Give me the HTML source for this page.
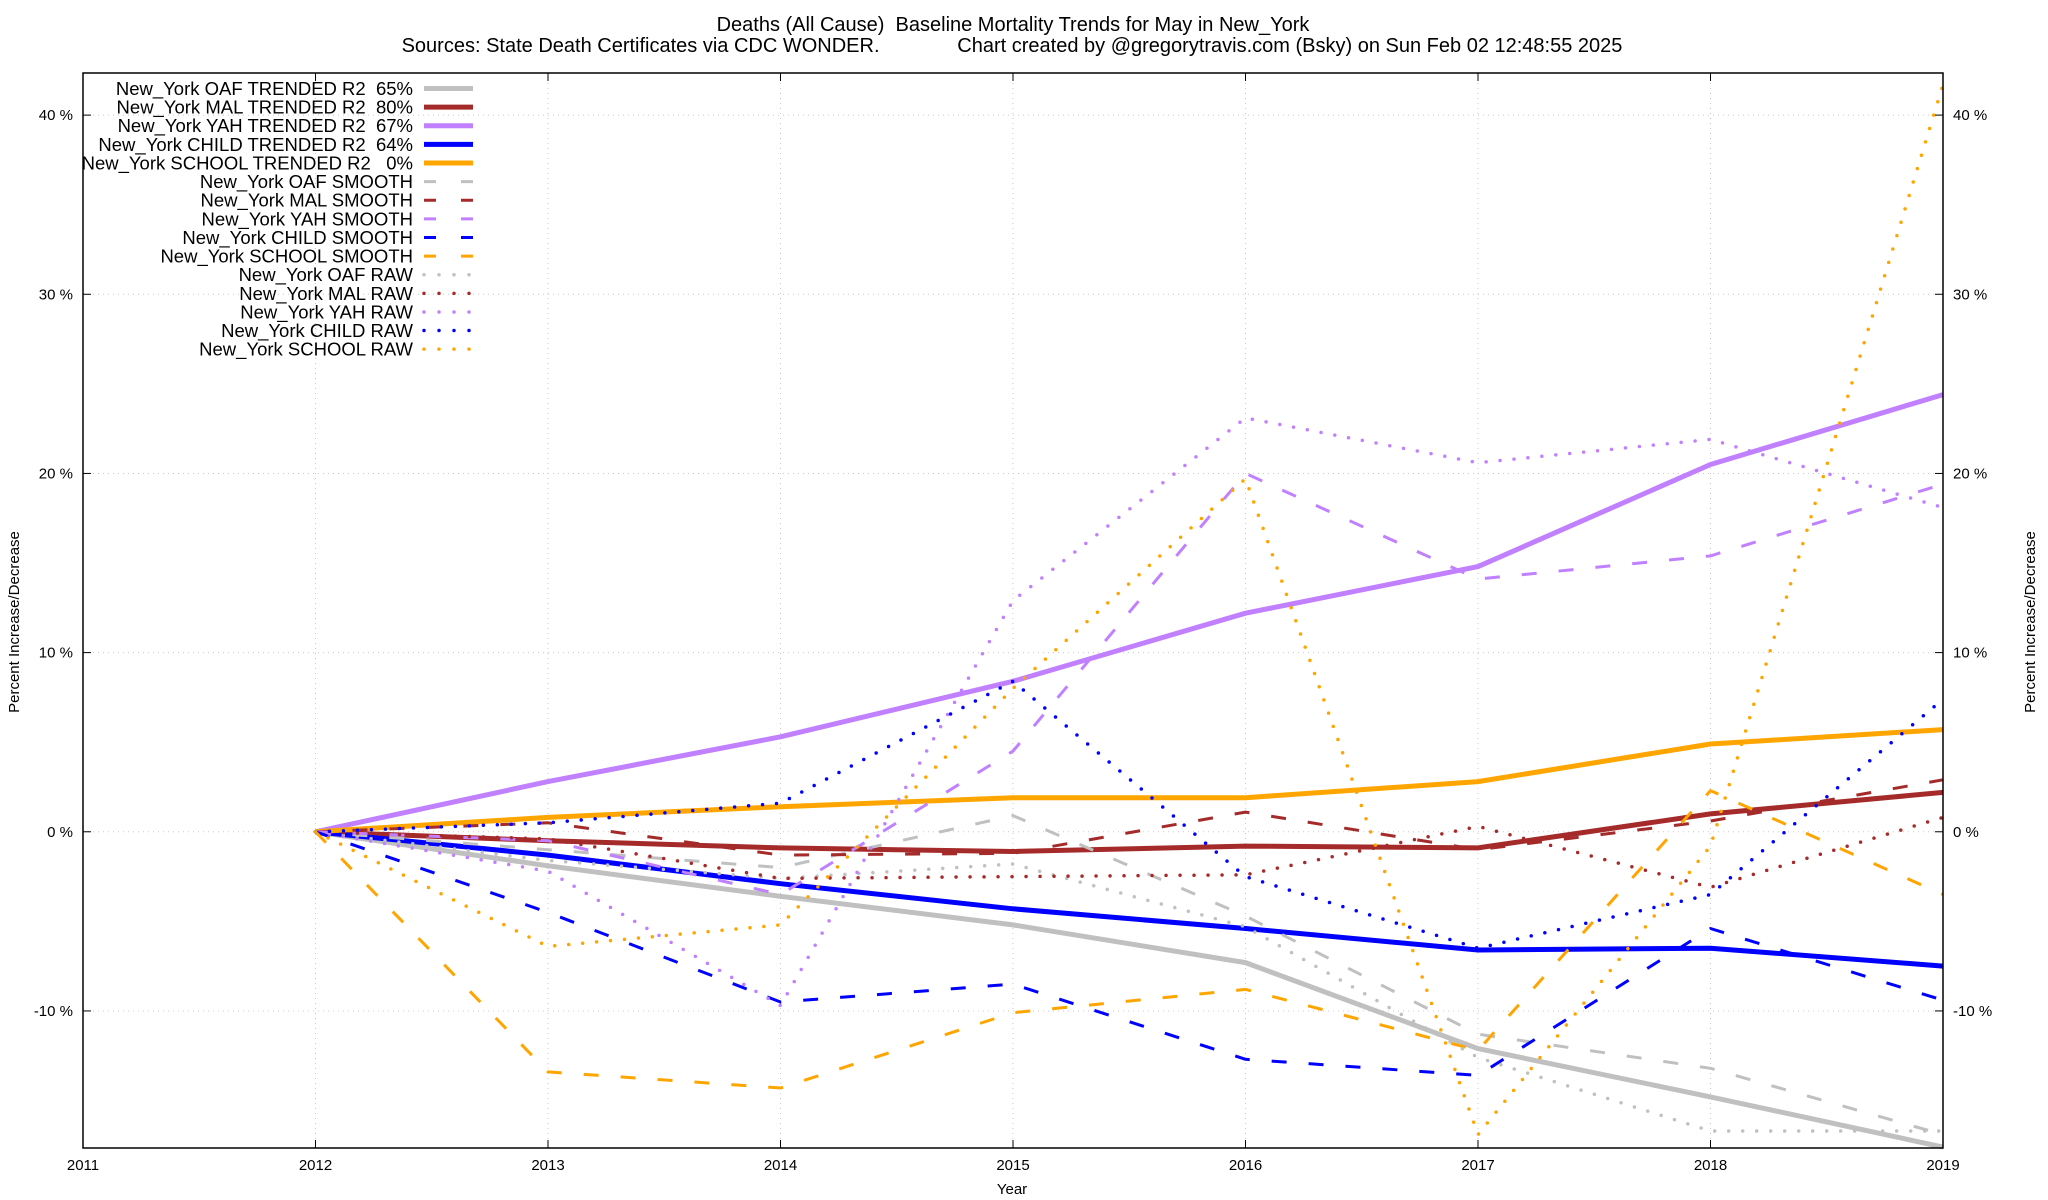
<!DOCTYPE html>
<html><head><meta charset="utf-8"><style>
html,body{margin:0;padding:0;background:#fff;}
svg{display:block;font-family:"Liberation Sans",sans-serif;}
svg text{white-space:pre;}
</style></head><body>
<svg id="chart" width="2048" height="1200" viewBox="0 0 2048 1200" xmlns="http://www.w3.org/2000/svg">
<text x="1013" y="31" font-size="20" text-anchor="middle">Deaths (All Cause)  Baseline Mortality Trends for May in New_York</text>
<text x="1012" y="52" font-size="20" text-anchor="middle">Sources: State Death Certificates via CDC WONDER.              Chart created by @gregorytravis.com (Bsky) on Sun Feb 02 12:48:55 2025</text>
<g id="grid"></g>
<g id="series"></g>
<g id="axes"></g>
<g id="legend"></g>
<text x="1012" y="1194" font-size="15" text-anchor="middle">Year</text>
<text transform="translate(19,622) rotate(-90)" font-size="15" text-anchor="middle">Percent Increase/Decrease</text>
<text transform="translate(2035,622) rotate(-90)" font-size="15" text-anchor="middle">Percent Increase/Decrease</text>
</svg>
<script>
const years = [2012,2013,2014,2015,2016,2017,2018,2019];
const xTicks = [2011,2012,2013,2014,2015,2016,2017,2018,2019];
const yTicks = [-10,0,10,20,30,40];
const oafTrend = [0,-1.9,-3.6,-5.2,-7.3,-12.1,-14.8,-17.6];
const malTrend = [0,-0.5,-0.9,-1.1,-0.8,-0.9,1.0,2.2];
const yahTrend = [0,2.8,5.3,8.4,12.2,14.8,20.5,24.4];
const childTrend = [0,-1.3,-2.9,-4.3,-5.4,-6.6,-6.5,-7.5];
const schoolTrend = [0,0.8,1.4,1.9,1.9,2.8,4.9,5.7];
const oafSmooth = [0,-1.0,-2.0,0.9,-4.7,-11.3,-13.2,-16.9];
const malSmooth = [0,0.5,-1.3,-1.2,1.1,-1.0,0.6,2.9];
const yahSmooth = [0,-0.5,-3.5,4.5,20.0,14.1,15.4,19.4];
const childSmooth = [0,-4.5,-9.5,-8.5,-12.7,-13.6,-5.4,-9.4];
const schoolSmooth = [0,-13.4,-14.3,-10.1,-8.8,-12.2,2.3,-3.5];
const oafRaw = [0,-1.6,-2.6,-1.8,-5.3,-12.6,-16.7,-16.7];
const malRaw = [0,-0.4,-2.6,-2.5,-2.4,0.3,-3.1,0.8];
const yahRaw = [0,-2.2,-9.7,12.9,23.1,20.6,21.9,18.1];
const childRaw = [0,0.5,1.6,8.4,-2.5,-6.5,-3.5,7.4];
const schoolRaw = [0,-6.4,-5.2,8.0,19.7,-16.9,-0.8,41.7];

const L=83,R=1943,T=73,B=1148;
const X0=2011,X1=2019,Y0=-17.65,Y1=42.35;
const xs=v=>L+(v-X0)/(X1-X0)*(R-L);
const ys=v=>B-(v-Y0)/(Y1-Y0)*(B-T);
const NS='http://www.w3.org/2000/svg';
function mk(tag,parent,attrs){const e=document.createElementNS(NS,tag);for(const k in attrs)e.setAttribute(k,attrs[k]);parent.appendChild(e);return e;}
const grid=document.getElementById('grid'),axes=document.getElementById('axes'),ser=document.getElementById('series'),leg=document.getElementById('legend');

xTicks.forEach(t=>{
  const x=xs(t);
  if(t>X0&&t<X1){const g=mk('line',grid,{x1:x,x2:x,y1:T,y2:B,stroke:'#c8c8c8','stroke-width':1,'stroke-dasharray':'1 4'});
  
  }
  const tk=mk('line',axes,{x1:x,x2:x,y1:B,y2:B-8,stroke:'#000','stroke-width':1});
  
  
  const tk2=mk('line',axes,{x1:x,x2:x,y1:T,y2:T+8,stroke:'#000','stroke-width':1});
  
  
  const lb=mk('text',axes,{x:x,y:1170,'font-size':15,'text-anchor':'middle'});lb.textContent=t;
  
  
});
yTicks.forEach(t=>{
  const y=ys(t);
  const g=mk('line',grid,{x1:L,x2:R,y1:y,y2:y,stroke:'#c8c8c8','stroke-width':1,'stroke-dasharray':'1 4'});
  
  
  const a=mk('line',axes,{x1:L,x2:L+8,y1:y,y2:y,stroke:'#000'});
  
  
  const b=mk('line',axes,{x1:R-8,x2:R,y1:y,y2:y,stroke:'#000'});
  
  
  const l1=mk('text',axes,{x:73,y:y+5,'font-size':15,'text-anchor':'end'});l1.textContent=t+' %';
  
  
  const l2=mk('text',axes,{x:1953,y:y+5,'font-size':15,'text-anchor':'start'});l2.textContent=t+' %';
  
  
});
const fr=mk('rect',axes,{x:L,y:T,width:R-L,height:B-T,fill:'none',stroke:'#000','stroke-width':1.5});



const C={oaf:'#c0c0c0',mal:'#a52a2a',yah:'#c080ff',child:'#0000ff',school:'#ffa500'};
const styles={trend:{w:5,dash:'none',cap:'butt'},smooth:{w:3,dash:'15 22',cap:'butt'},raw:{w:3.5,dash:'0 14',cap:'round'}};
const S=[
 ['New_York OAF TRENDED R2  65%',oafTrend,'oaf','trend'],
 ['New_York MAL TRENDED R2  80%',malTrend,'mal','trend'],
 ['New_York YAH TRENDED R2  67%',yahTrend,'yah','trend'],
 ['New_York CHILD TRENDED R2  64%',childTrend,'child','trend'],
 ['New_York SCHOOL TRENDED R2   0%',schoolTrend,'school','trend'],
 ['New_York OAF SMOOTH',oafSmooth,'oaf','smooth'],
 ['New_York MAL SMOOTH',malSmooth,'mal','smooth'],
 ['New_York YAH SMOOTH',yahSmooth,'yah','smooth'],
 ['New_York CHILD SMOOTH',childSmooth,'child','smooth'],
 ['New_York SCHOOL SMOOTH',schoolSmooth,'school','smooth'],
 ['New_York OAF RAW',oafRaw,'oaf','raw'],
 ['New_York MAL RAW',malRaw,'mal','raw'],
 ['New_York YAH RAW',yahRaw,'yah','raw'],
 ['New_York CHILD RAW',childRaw,'child','raw'],
 ['New_York SCHOOL RAW',schoolRaw,'school','raw']
];
S.forEach((s,i)=>{
  const st=styles[s[3]];
  const pts=s[1].map((v,j)=>xs(years[j]).toFixed(1)+','+ys(v).toFixed(1)).join(' ');
  const p=mk('polyline',ser,{points:pts,fill:'none',stroke:C[s[2]],'stroke-width':st.w,'stroke-dasharray':st.dash,'stroke-linecap':st.cap,'stroke-linejoin':'round'});
  
  
  const ly=88.5+i*18.62;
  const t=mk('text',leg,{x:413,y:ly+6.5,'font-size':18.5,'text-anchor':'end'});t.textContent=s[0];
  
  
  const ls=mk('line',leg,{x1:424,x2:473,y1:ly,y2:ly,stroke:C[s[2]],'stroke-width':st.w,'stroke-dasharray':s[3]==='smooth'?'12 25':(s[3]==='raw'?'0 15':'none'),'stroke-linecap':st.cap});
  
  
});
</script>
</body></html>
